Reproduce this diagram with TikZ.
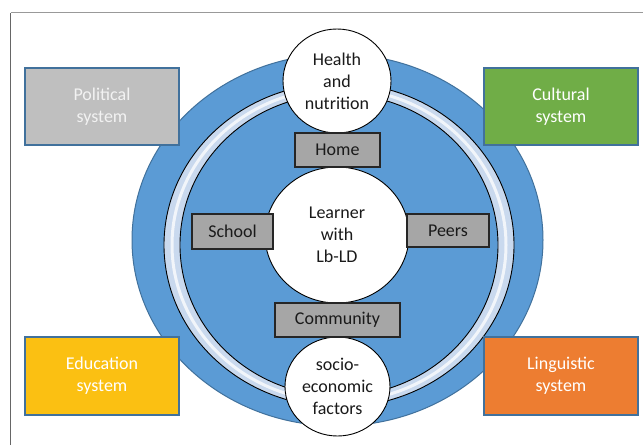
\documentclass[tikz,border=0pt]{standalone}
\usepackage{fontspec}
\setmainfont{Carlito}
\usetikzlibrary{shapes.geometric}
\definecolor{bigblue}{HTML}{5B9BD5}
\definecolor{edgeblue}{HTML}{41719C}
\definecolor{ringfill}{HTML}{C9D9EE}
\definecolor{polgray}{HTML}{BFBFBF}
\definecolor{culgreen}{HTML}{70AD47}
\definecolor{eduyellow}{HTML}{FBC012}
\definecolor{linorange}{HTML}{ED7D31}
\definecolor{boxgray}{HTML}{A6A6A6}
\definecolor{txtdark}{HTML}{1A1A1A}
\begin{document}
\begin{tikzpicture}[x=1pt,y=-1pt,
  lbl/.style={font=\fontsize{18}{22}\selectfont, align=center},
  sysbox/.style={lbl, draw=edgeblue, line width=2pt, text=white, minimum width=154pt, minimum height=77pt, inner sep=0pt},
  factor/.style={lbl, ellipse, draw=black, line width=0.9pt, fill=white, inner sep=0pt, text=txtdark},
  setbox/.style={lbl, draw=black!85, line width=1.2pt, fill=boxgray, inner sep=0pt, text=txtdark}]
\useasboundingbox (0,0) rectangle (643,445);
% frame
\draw[color=black!40, line width=1.2pt] (10.7,12.7) -- (643,12.7);
\draw[color=black!60, line width=1.2pt] (10.7,445) -- (10.7,12.7);
% big blue ellipse
\filldraw[fill=bigblue, draw=edgeblue, line width=1pt] (337.5,240) ellipse [x radius=205.5pt, y radius=186pt];
% ring
\fill[ringfill, even odd rule] (339,245) ellipse [x radius=175pt, y radius=162pt]
  (339,245) ellipse [x radius=159pt, y radius=151pt];
\draw[white, opacity=0.75, line width=3pt] (339,245) ellipse [x radius=167pt, y radius=156.5pt];
\draw[black, line width=0.9pt] (339,245) ellipse [x radius=175pt, y radius=162pt];
\draw[black, line width=0.9pt] (339,245) ellipse [x radius=159pt, y radius=151pt];
% factor circles
\node[factor, minimum width=108pt, minimum height=104pt] (health) at (337,81) {Health\\and\\nutrition};
\node[factor, minimum width=144pt, minimum height=136pt] (learner) at (337,235) {Learner\\with\\Lb-LD};
\node[factor, minimum width=105pt, minimum height=99pt] (socio) at (337.5,386.5) {socio-\\economic\\factors};
% setting boxes
\node[setbox, minimum width=85pt, minimum height=34pt] (home) at (337.5,150) {Home};
\node[setbox, minimum width=81pt, minimum height=35pt] (school) at (232.5,231.5) {School};
\node[setbox, minimum width=82pt, minimum height=33pt] (peers) at (448,230.5) {Peers};
\node[setbox, minimum width=125pt, minimum height=34pt] (community) at (337.5,320) {Community};
% system boxes
\node[sysbox, fill=polgray, text=white!95!black] (political) at (102,106.5) {Political\\system};
\node[sysbox, fill=culgreen] (cultural) at (561,106.5) {Cultural\\system};
\node[sysbox, fill=eduyellow, minimum height=78pt] (education) at (102,376) {Education\\system};
\node[sysbox, fill=linorange, minimum height=78pt] (linguistic) at (561,376) {Linguistic\\system};
\end{tikzpicture}
\end{document}
